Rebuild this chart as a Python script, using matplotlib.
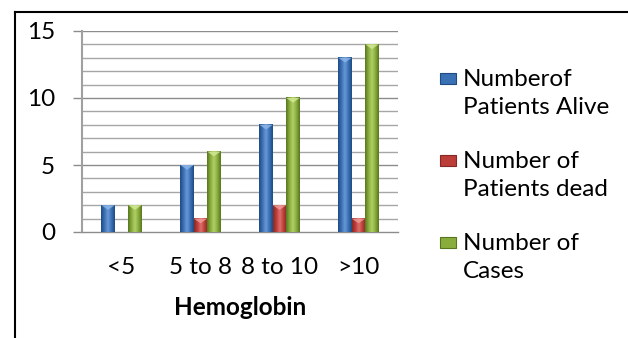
import matplotlib
matplotlib.use('Agg')
import matplotlib.pyplot as plt
import numpy as np
from matplotlib.colors import LinearSegmentedColormap
from matplotlib.patches import Rectangle, Polygon
from matplotlib.lines import Line2D

## hemoglobin groups and counts
categories = ['<5', '5 to 8', '8 to 10', '>10']
alive = [2, 5, 8, 13]
dead = [0, 1, 2, 1]
cases = [2, 6, 10, 14]
series_names = ['Numberof\nPatients Alive', 'Number of\nPatients dead', 'Number of\nCases']

## (dark edge, body, highlight, top face)
palette = [
    ('#1f4a82', '#3a70b4', '#6a9ad6', '#8fb8ea'),
    ('#862825', '#bd3d39', '#de716d', '#f0a09c'),
    ('#56751e', '#89ad3c', '#b2d06a', '#d4ea98'),
]

plt.rcParams['font.family'] = ['Lato', 'DejaVu Sans']

fig = plt.figure(figsize=(6.28, 3.38), dpi=100)
ax = fig.add_axes([82 / 628, 106 / 338, 316 / 628, 201 / 338])


def shaded_bars(ax, xs, heights, w, cols):
	dark, body, light, top = cols
	cmap = LinearSegmentedColormap.from_list('c', [dark, body, light, body, dark])
	grad = np.linspace(0, 1, 64).reshape(1, -1)
	for x, h in zip(xs, heights):
		if h <= 0:
			continue
		ax.imshow(grad, extent=[x - w / 2, x + w / 2, 0, h], cmap=cmap,
			aspect='auto', zorder=3, interpolation='bicubic')
		d = 0.35
		tri = Polygon([[x - w / 2, h], [x + w / 2, h], [x, h - d]],
			closed=True, facecolor=top, edgecolor='none', alpha=0.8, zorder=4)
		ax.add_patch(tri)


xs = np.arange(len(categories))
w = 0.17
for k, vals in enumerate([alive, dead, cases]):
	shaded_bars(ax, xs + (k - 1) * w, vals, w, palette[k])

ax.set_xlim(-0.5, len(categories) - 0.5)
ax.set_ylim(0, 15)

## gridlines every unit, major every 5
for v in range(1, 16):
	ax.axhline(v, color='#a6a6a6' if v % 5 else '#8c8c8c', lw=1.0, zorder=1)

for s in ['top', 'right']:
	ax.spines[s].set_visible(False)
ax.spines['left'].set_color('#a0a0a0')
ax.spines['left'].set_linewidth(1.5)
ax.spines['bottom'].set_color('#8c8c8c')
ax.spines['bottom'].set_linewidth(1.0)

ax.set_yticks([0, 5, 10, 15])
ax.tick_params(axis='y', length=6.5, width=1.0, color='#8c8c8c', labelsize=17.5, pad=13)
ax.set_xticks(xs)
ax.set_xticklabels(categories)
ax.tick_params(axis='x', length=0, labelsize=17.5, pad=18)
ax.set_xlabel('Hemoglobin', fontsize=17.5, fontweight='bold', labelpad=13)

## legend drawn by hand, one block per series
for k, name in enumerate(series_names):
	dark, body, light, top = palette[k]
	y0 = 1 - (73 + k * 82) / 338
	sq = Rectangle((440 / 628, y0 - 11 / 338), 16 / 628, 11 / 338, transform=fig.transFigure,
		facecolor=body, edgecolor=dark, lw=0.8)
	fig.add_artist(sq)
	fig.text(463 / 628, y0 + 4 / 338, name, fontsize=17.5, va='top', ha='left', linespacing=1.4)

## outer frame
fig.add_artist(Line2D([15 / 628, 15 / 628], [0, 1 - 12 / 338], color='black', lw=1.5))
fig.add_artist(Line2D([15 / 628, 1], [1 - 12 / 338, 1 - 12 / 338], color='black', lw=1.5))

fig.savefig('out.png', dpi=100)
